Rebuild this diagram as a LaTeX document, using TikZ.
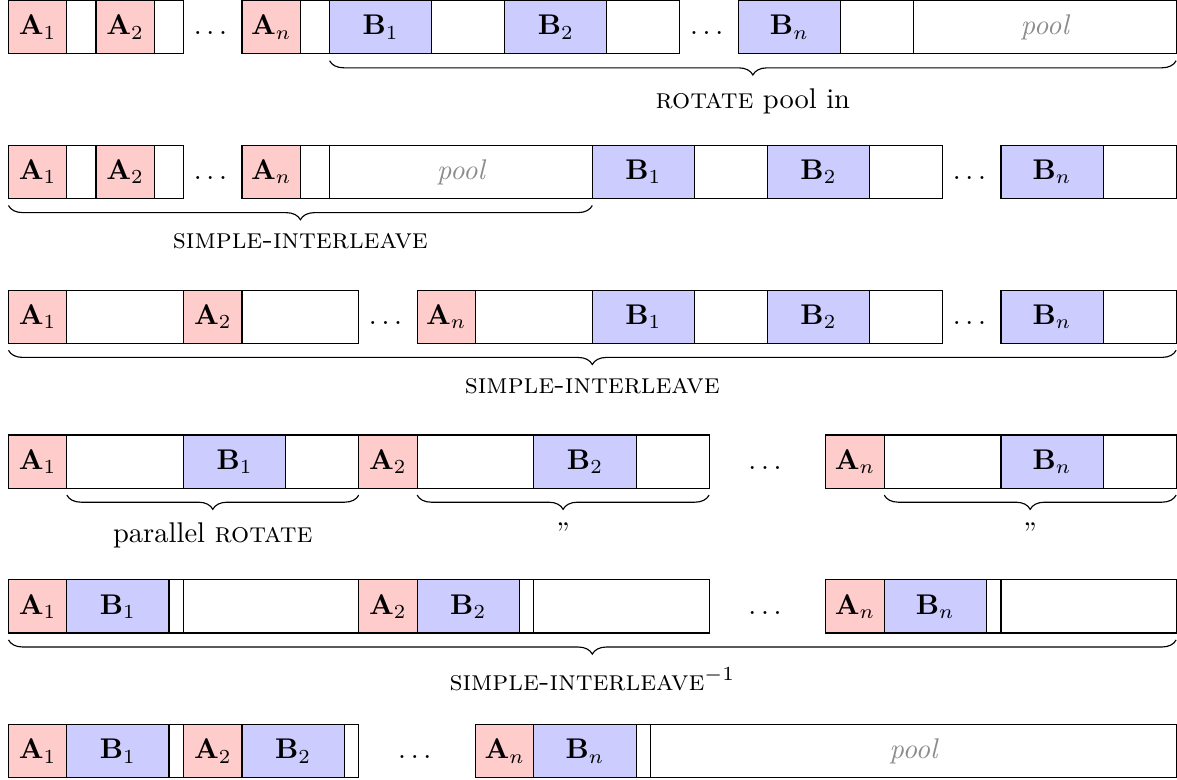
\documentclass[tikz,border=0pt]{standalone}
\usepackage{amsmath}
\usepackage{tikz}
\usetikzlibrary{decorations.pathreplacing}

\tikzset{
  cell/.style={draw, inner sep=0pt, outer sep=0pt, anchor=north west, minimum height=6.57mm},
  wd/.style={minimum width=#1*3.6mm},
  acell/.style={cell, fill=red!20},
  bcell/.style={cell, fill=blue!20},
  poolcell/.style={cell, text=black!45, font=\itshape},
  dotsnode/.style={anchor=base, inner sep=0pt},
  underbrace/.style={decorate, decoration={brace, mirror, amplitude=5pt, raise=2.4pt}},
  bracelabel/.style={midway, below=8.6pt}
}

\begin{document}
\begin{tikzpicture}[x=3.6mm, y=3.6mm]
\useasboundingbox (-0.29,0.02) rectangle (40.03,-26.69);

\node[acell, wd=2] (r1a1) at (0,0) {$\mathbf{A}_1$};
\node[cell, wd=1] (r1e1) at (2,0) {};
\node[acell, wd=2] (r1a2) at (3,0) {$\mathbf{A}_2$};
\node[cell, wd=1] (r1e2) at (5,0) {};
\node[dotsnode] (r1d1) at (r1a1.base -| 7,0) {$\dots$};
\node[acell, wd=2] (r1an) at (8,0) {$\mathbf{A}_n$};
\node[cell, wd=1] (r1en) at (10,0) {};
\node[bcell, wd=3.5] (r1b1) at (11,0) {$\mathbf{B}_1$};
\node[cell, wd=2.5] (r1f1) at (14.5,0) {};
\node[bcell, wd=3.5] (r1b2) at (17,0) {$\mathbf{B}_2$};
\node[cell, wd=2.5] (r1f2) at (20.5,0) {};
\node[dotsnode] (r1d2) at (r1a1.base -| 24,0) {$\dots$};
\node[bcell, wd=3.5] (r1bn) at (25,0) {$\mathbf{B}_n$};
\node[cell, wd=2.5] (r1fn) at (28.5,0) {};
\node[poolcell, wd=9] (r1pool) at (31,0) {pool};
\draw[underbrace] (r1b1.south west) -- (r1pool.south east)
  node[bracelabel] (r1lab) {\textsc{rotate} pool in};

\node[acell, wd=2] (r2a1) at (0,-4.96) {$\mathbf{A}_1$};
\node[cell, wd=1] (r2e1) at (2,-4.96) {};
\node[acell, wd=2] (r2a2) at (3,-4.96) {$\mathbf{A}_2$};
\node[cell, wd=1] (r2e2) at (5,-4.96) {};
\node[dotsnode] (r2d1) at (r2a1.base -| 7,0) {$\dots$};
\node[acell, wd=2] (r2an) at (8,-4.96) {$\mathbf{A}_n$};
\node[cell, wd=1] (r2en) at (10,-4.96) {};
\node[poolcell, wd=9] (r2pool) at (11,-4.96) {pool};
\node[bcell, wd=3.5] (r2b1) at (20,-4.96) {$\mathbf{B}_1$};
\node[cell, wd=2.5] (r2f1) at (23.5,-4.96) {};
\node[bcell, wd=3.5] (r2b2) at (26,-4.96) {$\mathbf{B}_2$};
\node[cell, wd=2.5] (r2f2) at (29.5,-4.96) {};
\node[dotsnode] (r2d2) at (r2a1.base -| 33,0) {$\dots$};
\node[bcell, wd=3.5] (r2bn) at (34,-4.96) {$\mathbf{B}_n$};
\node[cell, wd=2.5] (r2fn) at (37.5,-4.96) {};
\draw[underbrace] (r2a1.south west) -- (r2pool.south east)
  node[bracelabel] (r2lab) {\textsc{simple-interleave}};

\node[acell, wd=2] (r3a1) at (0,-9.92) {$\mathbf{A}_1$};
\node[cell, wd=4] (r3e1) at (2,-9.92) {};
\node[acell, wd=2] (r3a2) at (6,-9.92) {$\mathbf{A}_2$};
\node[cell, wd=4] (r3e2) at (8,-9.92) {};
\node[dotsnode] (r3d1) at (r3a1.base -| 13,0) {$\dots$};
\node[acell, wd=2] (r3an) at (14,-9.92) {$\mathbf{A}_n$};
\node[cell, wd=4] (r3en) at (16,-9.92) {};
\node[bcell, wd=3.5] (r3b1) at (20,-9.92) {$\mathbf{B}_1$};
\node[cell, wd=2.5] (r3f1) at (23.5,-9.92) {};
\node[bcell, wd=3.5] (r3b2) at (26,-9.92) {$\mathbf{B}_2$};
\node[cell, wd=2.5] (r3f2) at (29.5,-9.92) {};
\node[dotsnode] (r3d2) at (r3a1.base -| 33,0) {$\dots$};
\node[bcell, wd=3.5] (r3bn) at (34,-9.92) {$\mathbf{B}_n$};
\node[cell, wd=2.5] (r3fn) at (37.5,-9.92) {};
\draw[underbrace] (r3a1.south west) -- (r3fn.south east)
  node[bracelabel] (r3lab) {\textsc{simple-interleave}};

\node[acell, wd=2] (r4a1) at (0,-14.88) {$\mathbf{A}_1$};
\node[cell, wd=4] (r4e1) at (2,-14.88) {};
\node[bcell, wd=3.5] (r4b1) at (6,-14.88) {$\mathbf{B}_1$};
\node[cell, wd=2.5] (r4f1) at (9.5,-14.88) {};
\node[acell, wd=2] (r4a2) at (12,-14.88) {$\mathbf{A}_2$};
\node[cell, wd=4] (r4e2) at (14,-14.88) {};
\node[bcell, wd=3.5] (r4b2) at (18,-14.88) {$\mathbf{B}_2$};
\node[cell, wd=2.5] (r4f2) at (21.5,-14.88) {};
\node[dotsnode] (r4d1) at (r4a1.base -| 26,0) {$\dots$};
\node[acell, wd=2] (r4an) at (28,-14.88) {$\mathbf{A}_n$};
\node[cell, wd=4] (r4en) at (30,-14.88) {};
\node[bcell, wd=3.5] (r4bn) at (34,-14.88) {$\mathbf{B}_n$};
\node[cell, wd=2.5] (r4fn) at (37.5,-14.88) {};
\draw[underbrace] (r4e1.south west) -- (r4f1.south east)
  node[bracelabel] (r4lab1) {parallel \textsc{rotate}};
\draw[underbrace] (r4e2.south west) -- (r4f2.south east)
  node[bracelabel] (r4lab2) {''};
\draw[underbrace] (r4en.south west) -- (r4fn.south east)
  node[bracelabel] (r4lab3) {''};

\node[acell, wd=2] (r5a1) at (0,-19.84) {$\mathbf{A}_1$};
\node[bcell, wd=3.5] (r5b1) at (2,-19.84) {$\mathbf{B}_1$};
\node[cell, wd=0.5] (r5g1) at (5.5,-19.84) {};
\node[cell, wd=6] (r5e1) at (6,-19.84) {};
\node[acell, wd=2] (r5a2) at (12,-19.84) {$\mathbf{A}_2$};
\node[bcell, wd=3.5] (r5b2) at (14,-19.84) {$\mathbf{B}_2$};
\node[cell, wd=0.5] (r5g2) at (17.5,-19.84) {};
\node[cell, wd=6] (r5e2) at (18,-19.84) {};
\node[dotsnode] (r5d1) at (r5a1.base -| 26,0) {$\dots$};
\node[acell, wd=2] (r5an) at (28,-19.84) {$\mathbf{A}_n$};
\node[bcell, wd=3.5] (r5bn) at (30,-19.84) {$\mathbf{B}_n$};
\node[cell, wd=0.5] (r5gn) at (33.5,-19.84) {};
\node[cell, wd=6] (r5en) at (34,-19.84) {};
\draw[underbrace] (r5a1.south west) -- (r5en.south east)
  node[bracelabel] (r5lab) {\textsc{simple-interleave}$^{-1}$};

\node[acell, wd=2] (r6a1) at (0,-24.8) {$\mathbf{A}_1$};
\node[bcell, wd=3.5] (r6b1) at (2,-24.8) {$\mathbf{B}_1$};
\node[cell, wd=0.5] (r6g1) at (5.5,-24.8) {};
\node[acell, wd=2] (r6a2) at (6,-24.8) {$\mathbf{A}_2$};
\node[bcell, wd=3.5] (r6b2) at (8,-24.8) {$\mathbf{B}_2$};
\node[cell, wd=0.5] (r6g2) at (11.5,-24.8) {};
\node[dotsnode] (r6d1) at (r6a1.base -| 14,0) {$\dots$};
\node[acell, wd=2] (r6an) at (16,-24.8) {$\mathbf{A}_n$};
\node[bcell, wd=3.5] (r6bn) at (18,-24.8) {$\mathbf{B}_n$};
\node[cell, wd=0.5] (r6gn) at (21.5,-24.8) {};
\node[poolcell, wd=18] (r6pool) at (22,-24.8) {pool};
\end{tikzpicture}
\end{document}
